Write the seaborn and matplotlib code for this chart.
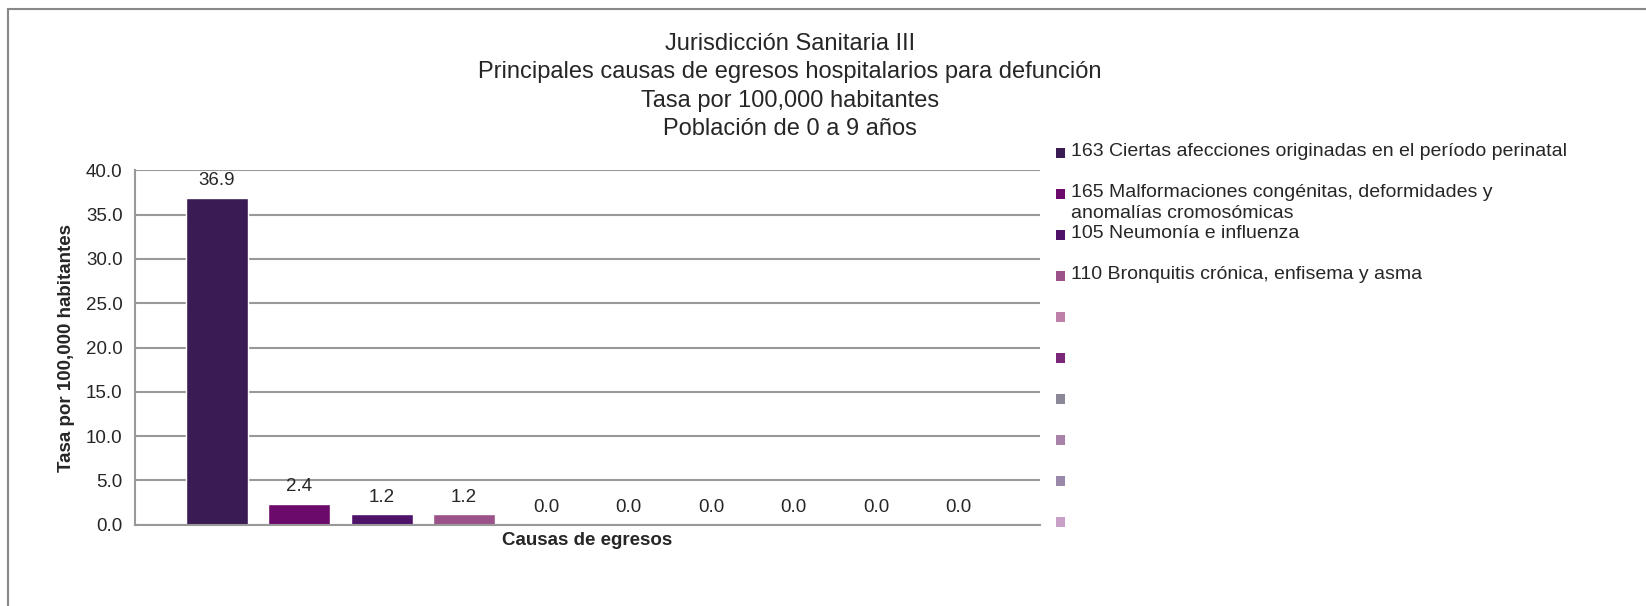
import matplotlib.pyplot as plt
import matplotlib.patches as mpatches
import seaborn as sns
import pandas as pd

# == DATA ==
causas = [
    "163 Ciertas afecciones originadas en el período perinatal",
    "165 Malformaciones congénitas, deformidades y\nanomalías cromosómicas",
    "105 Neumonía e influenza",
    "110 Bronquitis crónica, enfisema y asma",
    "", "", "", "", "", "",
]
tasas = [36.9, 2.4, 1.2, 1.2, 0.0, 0.0, 0.0, 0.0, 0.0, 0.0]
colores = ["#3B1B53", "#6C0A6B", "#4E1369", "#9B5289", "#BE80A8",
           "#7B2779", "#8D8899", "#A882A8", "#9A88AA", "#C8A0C8"]
titulo = ("Jurisdicción Sanitaria III\n"
          "Principales causas de egresos hospitalarios para defunción\n"
          "Tasa por 100,000 habitantes\n"
          "Población de 0 a 9 años")

# one category, each cause is its own series (hue)
claves = [f"s{i}" for i in range(len(tasas))]
df = pd.DataFrame({"grupo": [""] * len(tasas), "serie": claves, "tasa": tasas})

sns.set_style("white")
plt.rcParams["font.family"] = ["Liberation Sans", "DejaVu Sans"]

fig = plt.figure(figsize=(16.46, 6.06), dpi=100)
ax = fig.add_axes([0.082, 0.134, 0.550, 0.585])

sns.barplot(data=df, x="grupo", y="tasa", hue="serie", hue_order=claves,
            palette=dict(zip(claves, colores)), width=0.91, gap=0.25,
            legend=False, ax=ax, saturation=1)

ax.set_ylim(0, 40)
ax.set_xlim(-0.5, 0.5)
ax.set_yticks([0, 5, 10, 15, 20, 25, 30, 35, 40])
ax.set_yticklabels([f"{v:.1f}" for v in ax.get_yticks()], fontsize=13.5)
ax.set_xticks([])
ax.yaxis.grid(True, color="#999999", linewidth=1.5)
ax.set_axisbelow(True)
for s in ["top", "right"]:
    ax.spines[s].set_visible(False)
for s in ["left", "bottom"]:
    ax.spines[s].set_color("#999999")
    ax.spines[s].set_linewidth(1.5)
ax.tick_params(axis="y", length=5, color="#999999", width=1.5, pad=4)

# data labels
for bars in ax.containers:
    ax.bar_label(bars, fmt="%.1f", padding=6, fontsize=13.5)

ax.set_xlabel("Causas de egresos", fontsize=13.5, fontweight="bold", labelpad=5)
ax.set_ylabel("Tasa por 100,000 habitantes", fontsize=13.5, fontweight="bold", labelpad=8)

fig.text(0.48, 0.946, titulo, ha="center", va="top", fontsize=17, linespacing=1.38)

# legend drawn by hand, Excel style
lx = 0.6415
y0 = 1 - 153 / 606
paso = 41 / 606
for i, (lab, col) in enumerate(zip(causas, colores)):
    yc = y0 - i * paso
    fig.patches.append(mpatches.Rectangle((lx, yc - 0.009), 0.0055, 0.018,
                                          transform=fig.transFigure,
                                          facecolor=col, edgecolor="none"))
    fig.text(lx + 0.009, yc + 0.016, lab, ha="left", va="top", fontsize=14,
             linespacing=1.25)

# outer chart border (cropped at right and bottom)
fig.patches.append(mpatches.Rectangle((8 / 1646, -0.2), 1.1, 1 - 9 / 606 + 0.2,
                                      transform=fig.transFigure, fill=False,
                                      edgecolor="#888888", linewidth=1.5))

fig.savefig("out.png", dpi=100)
